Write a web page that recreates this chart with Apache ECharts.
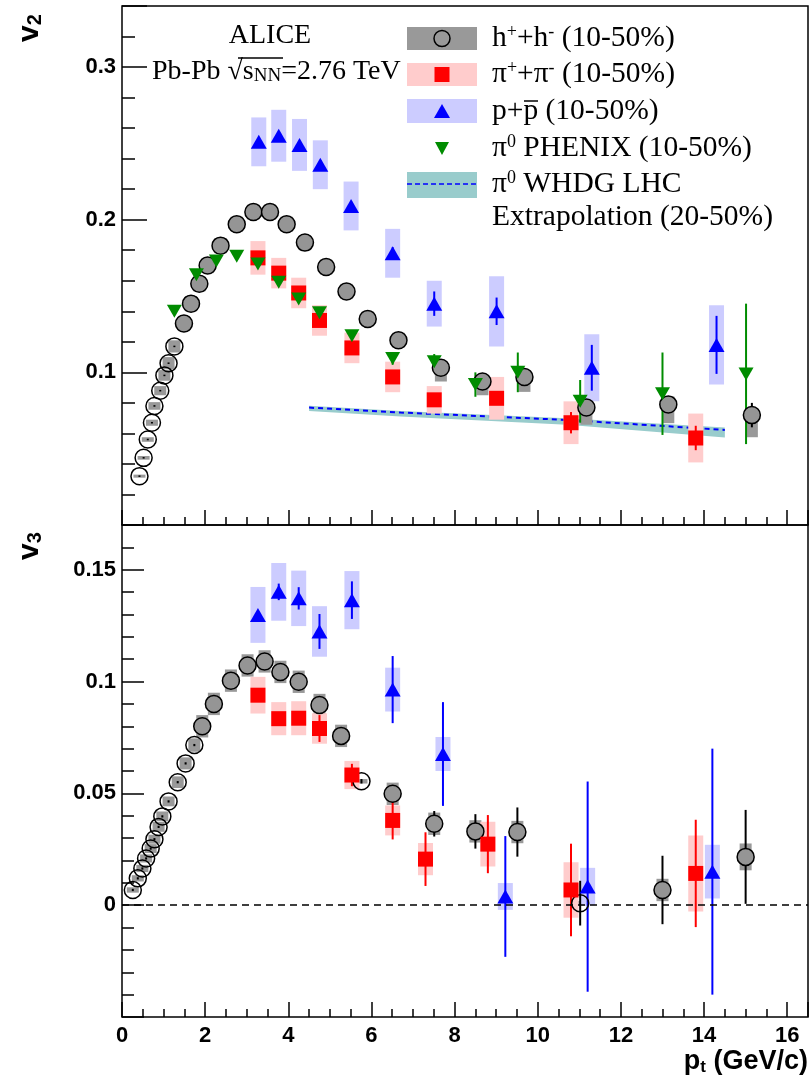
<!DOCTYPE html>
<html>
<head>
    <meta charset="utf-8" />
    <title>ALICE v2 / v3 vs pt</title>
    <script type="text/javascript" src="https://cdn.jsdelivr.net/npm/echarts@6/dist/echarts.min.js"></script>
    <style>
        html, body { margin: 0; padding: 0; background: #fff; }
        #main { width: 812px; height: 1085px; }
    </style>
</head>
<body>
    <div id="main"></div>
    <script type="text/javascript">
        // ---- values ----
        // v2, charged hadrons (10-50%)
        var hPt2   = [0.42, 0.52, 0.62, 0.72, 0.78, 0.92, 1.02, 1.12, 1.26, 1.49, 1.66, 1.86, 2.06, 2.37, 2.76, 3.16, 3.56, 3.96, 4.40, 4.91, 5.40, 5.91, 6.65, 7.67, 8.67, 9.68, 11.17, 13.14, 15.15];
        var hV2    = [0.032, 0.044, 0.056, 0.067, 0.078, 0.088, 0.098, 0.106, 0.117, 0.132, 0.145, 0.158, 0.170, 0.183, 0.197, 0.205, 0.205, 0.197, 0.185, 0.169, 0.153, 0.135, 0.121, 0.103, 0.094, 0.097, 0.077, 0.079, 0.072];
        var hStat2 = [0.0005, 0.0005, 0.0005, 0.0005, 0.0005, 0.0005, 0.0005, 0.0005, 0.0005, 0.0005, 0.0005, 0.0005, 0.0005, 0.0005, 0.0005, 0.0005, 0.0005, 0.0005, 0.0008, 0.001, 0.001, 0.001, 0.0015, 0.002, 0.002, 0.002, 0.004, 0.004, 0.008];
        // systematic boxes: centre and half height (boxes sit a little below the points at high pt)
        var hBox2  = [0.032, 0.044, 0.056, 0.067, 0.078, 0.088, 0.098, 0.106, 0.117, 0.132, 0.145, 0.158, 0.170, 0.183, 0.197, 0.205, 0.205, 0.197, 0.185, 0.169, 0.153, 0.135, 0.121, 0.100, 0.091, 0.094, 0.0734, 0.0755, 0.067];
        var hSys2  = [0.001, 0.0012, 0.0015, 0.002, 0.0025, 0.003, 0.0035, 0.004, 0.004, 0.005, 0.005, 0.005, 0.005, 0.005, 0.005, 0.005, 0.005, 0.005, 0.005, 0.005, 0.005, 0.005, 0.005, 0.006, 0.006, 0.0068, 0.0077, 0.0088, 0.0095];

        // v2, pions (10-50%)
        var piPt2   = [3.27, 3.77, 4.25, 4.75, 5.53, 6.51, 7.51, 9.01, 10.80, 13.80];
        var piV2    = [0.175, 0.165, 0.152, 0.134, 0.116, 0.097, 0.082, 0.083, 0.067, 0.057];
        var piStat2 = [0.002, 0.002, 0.002, 0.002, 0.002, 0.003, 0.003, 0.004, 0.007, 0.008];
        var piSys2  = [0.011, 0.010, 0.010, 0.010, 0.010, 0.010, 0.009, 0.014, 0.014, 0.016];

        // v2, protons (10-50%)
        var pPt2   = [3.29, 3.77, 4.27, 4.77, 5.51, 6.51, 7.51, 9.01, 11.30, 14.30];
        var pV2    = [0.251, 0.255, 0.249, 0.236, 0.209, 0.178, 0.145, 0.140, 0.103, 0.118];
        var pStat2 = [0.002, 0.002, 0.002, 0.003, 0.003, 0.004, 0.008, 0.009, 0.015, 0.019];
        var pSys2  = [0.016, 0.017, 0.017, 0.016, 0.016, 0.016, 0.015, 0.023, 0.022, 0.026];

        // v2, pi0 PHENIX (10-50%)
        var phPt  = [1.26, 1.79, 2.27, 2.76, 3.27, 3.77, 4.25, 4.75, 5.53, 6.51, 7.51, 8.50, 9.52, 11.02, 13.00, 15.01];
        var phV2  = [0.140, 0.164, 0.173, 0.176, 0.171, 0.159, 0.148, 0.139, 0.124, 0.109, 0.107, 0.092, 0.100, 0.081, 0.086, 0.099];
        var phErr = [0.002, 0.002, 0.002, 0.002, 0.002, 0.002, 0.002, 0.002, 0.003, 0.004, 0.005, 0.008, 0.013, 0.014, 0.027, 0.046];

        // pi0 WHDG LHC extrapolation (20-50%)
        var whdgPt    = [4.5, 6.7, 10.7, 14.5];
        var whdgV2    = [0.0769, 0.0737, 0.0688, 0.0623];
        var whdgLow   = [0.0747, 0.0710, 0.0656, 0.0573];
        var whdgHigh  = [0.0782, 0.0747, 0.0700, 0.0638];

        // v3, charged hadrons
        var hPt3   = [0.26, 0.38, 0.49, 0.58, 0.69, 0.78, 0.88, 0.97, 1.12, 1.34, 1.53, 1.74, 1.93, 2.21, 2.62, 3.02, 3.43, 3.81, 4.25, 4.75, 5.27, 5.76, 6.51, 7.51, 8.50, 9.51, 11.02, 13.00, 15.00];
        var hV3    = [0.0068, 0.012, 0.0164, 0.0209, 0.0253, 0.0295, 0.035, 0.0397, 0.0464, 0.055, 0.0634, 0.0716, 0.080, 0.090, 0.1004, 0.1072, 0.109, 0.1043, 0.0999, 0.0895, 0.0757, 0.0554, 0.0498, 0.0364, 0.033, 0.0327, 0.0009, 0.0068, 0.0216];
        var hStat3 = [0.0005, 0.0005, 0.0005, 0.0005, 0.0005, 0.0005, 0.0005, 0.0005, 0.0005, 0.0005, 0.0005, 0.0005, 0.0005, 0.0005, 0.0005, 0.0005, 0.0005, 0.0005, 0.0005, 0.0008, 0.001, 0.001, 0.0015, 0.0057, 0.0077, 0.011, 0.010, 0.0153, 0.021];
        var hSys3  = [0.0012, 0.0014, 0.0016, 0.0018, 0.002, 0.002, 0.0022, 0.0022, 0.0022, 0.0026, 0.0027, 0.003, 0.005, 0.005, 0.005, 0.005, 0.005, 0.005, 0.005, 0.005, 0.005, 0.001, 0.005, 0.005, 0.005, 0.005, 0.001, 0.005, 0.006];

        // v3, pions
        var piPt3   = [3.27, 3.77, 4.25, 4.75, 5.53, 6.51, 7.30, 8.80, 10.80, 13.80];
        var piV3    = [0.0939, 0.0834, 0.0836, 0.079, 0.0582, 0.0379, 0.0206, 0.0273, 0.0068, 0.0142];
        var piStat3 = [0.002, 0.002, 0.003, 0.006, 0.005, 0.0085, 0.012, 0.013, 0.0207, 0.024];
        var piSys3  = [0.0082, 0.0074, 0.0076, 0.0068, 0.0063, 0.0067, 0.0072, 0.010, 0.0124, 0.017];

        // v3, protons
        var pPt3   = [3.27, 3.77, 4.25, 4.75, 5.53, 6.51, 7.72, 9.22, 11.20, 14.20];
        var pV3    = [0.1298, 0.1401, 0.1372, 0.1224, 0.1364, 0.0964, 0.0676, 0.0039, 0.0083, 0.015];
        var pStat3 = [0.002, 0.0037, 0.005, 0.0078, 0.0084, 0.015, 0.0232, 0.027, 0.047, 0.055];
        var pSys3  = [0.0125, 0.0129, 0.0124, 0.0113, 0.013, 0.0098, 0.0076, 0.006, 0.0084, 0.012];

        // ---- helpers ----
        var SANS = '"Liberation Sans", Arial, sans-serif';
        var SERIF = '"Liberation Serif", "Times New Roman", serif';

        function zip(x, y, e) {
            return x.map(function (v, i) { return [v, y[i], e[i]]; });
        }

        // systematic box, fixed width in pixels
        function sysBox(color, halfW) {
            return function (params, api) {
                var lo = api.coord([api.value(0), api.value(1) - api.value(2)]);
                var hi = api.coord([api.value(0), api.value(1) + api.value(2)]);
                return {
                    type: 'rect',
                    shape: { x: lo[0] - halfW, y: hi[1], width: 2 * halfW, height: Math.max(lo[1] - hi[1], 1) },
                    style: { fill: color }
                };
            };
        }

        // statistical error bar
        function errBar(color) {
            return function (params, api) {
                var lo = api.coord([api.value(0), api.value(1) - api.value(2)]);
                var hi = api.coord([api.value(0), api.value(1) + api.value(2)]);
                return {
                    type: 'line',
                    shape: { x1: lo[0], y1: lo[1], x2: hi[0], y2: hi[1] },
                    style: { stroke: color, lineWidth: 2 }
                };
            };
        }

        function custom(grid, data, render, z) {
            return { type: 'custom', xAxisIndex: grid * 2, yAxisIndex: grid * 2, data: data, renderItem: render, clip: true, z: z || 2, silent: true };
        }

        function labelFmt(lo, hi) {
            return function (v) {
                var r = Math.round(v * 1000) / 1000;
                if (r < lo - 1e-9 || r > hi + 1e-9) return '';
                return String(Math.round(v * 100) / 100);
            };
        }

        var tickStyle = { color: '#000', width: 1.5 };
        var labelStyle = { color: '#000', fontFamily: SANS, fontWeight: 'bold', fontSize: 22 };

        function xAxis(grid, interval, len, withLabels) {
            return {
                type: 'value', gridIndex: grid, min: 0, max: 16.5, interval: interval, position: 'bottom',
                axisLine: { show: false, onZero: false }, splitLine: { show: false },
                axisTick: { show: true, inside: true, length: len, lineStyle: tickStyle },
                axisLabel: withLabels ? Object.assign({
                    margin: 8,
                    formatter: function (v) { return (Math.abs(v % 2) < 1e-9) ? String(v) : ''; }
                }, labelStyle) : { show: false }
            };
        }

        function yAxis(grid, min, max, interval, len, fmt) {
            return {
                type: 'value', gridIndex: grid, min: min, max: max, interval: interval, position: 'left',
                axisLine: { show: false, onZero: false }, splitLine: { show: false },
                axisTick: { show: true, inside: true, length: len, lineStyle: tickStyle },
                axisLabel: fmt ? Object.assign({ margin: 6, formatter: fmt }, labelStyle) : { show: false }
            };
        }

        function hadronFill(p) {
            // small systematic boxes leave the circle open
            return p.data[2] < 0.0045 ? 'rgba(0,0,0,0)' : '#959595';
        }

        var whdgBand = function (params, api) {
            var pts = [];
            for (var i = 0; i < whdgPt.length; i++) pts.push(api.coord([whdgPt[i], whdgHigh[i]]));
            for (var j = whdgPt.length - 1; j >= 0; j--) pts.push(api.coord([whdgPt[j], whdgLow[j]]));
            return { type: 'polygon', shape: { points: pts }, style: { fill: '#99cccc' } };
        };

        var series = [
            // ---- top panel: v2 ----
            custom(0, [[whdgPt[0], whdgV2[0]]], whdgBand, 1),
            {
                type: 'line', xAxisIndex: 0, yAxisIndex: 0, z: 1,
                data: whdgPt.map(function (p, i) { return [p, whdgV2[i]]; }),
                symbol: 'none', lineStyle: { color: '#0000ff', width: 2, type: [5, 4] }, silent: true
            },
            custom(0, zip(hPt2, hBox2, hSys2), sysBox('#999999', 6)),
            custom(0, zip(piPt2, piV2, piSys2), sysBox('#ffcccc', 7.5)),
            custom(0, zip(pPt2, pV2, pSys2), sysBox('#ccccff', 7.5)),
            custom(0, zip(hPt2, hV2, hStat2), errBar('#000')),
            custom(0, zip(piPt2, piV2, piStat2), errBar('#ff0000')),
            custom(0, zip(pPt2, pV2, pStat2), errBar('#0000ff')),
            custom(0, zip(phPt, phV2, phErr), errBar('#008c00')),
            {
                type: 'scatter', xAxisIndex: 0, yAxisIndex: 0, z: 3, data: zip(hPt2, hV2, hSys2),
                symbol: 'circle', symbolSize: 17,
                itemStyle: { color: hadronFill, borderColor: '#000', borderWidth: 1.5, opacity: 1 }
            },
            {
                type: 'scatter', xAxisIndex: 0, yAxisIndex: 0, z: 3, data: zip(piPt2, piV2, piStat2),
                symbol: 'rect', symbolSize: 15, itemStyle: { color: '#ff0000', opacity: 1 }
            },
            {
                type: 'scatter', xAxisIndex: 0, yAxisIndex: 0, z: 3, data: zip(pPt2, pV2, pStat2),
                symbol: 'triangle', symbolSize: [16, 14], itemStyle: { color: '#0000ff', opacity: 1 }
            },
            {
                type: 'scatter', xAxisIndex: 0, yAxisIndex: 0, z: 3, data: zip(phPt, phV2, phErr),
                symbol: 'triangle', symbolSize: [15, 13], symbolRotate: 180, itemStyle: { color: '#008c00', opacity: 1 }
            },

            // ---- bottom panel: v3 ----
            {
                type: 'line', xAxisIndex: 2, yAxisIndex: 2, z: 1, data: [], silent: true,
                markLine: {
                    silent: true, symbol: 'none', label: { show: false }, animation: false,
                    lineStyle: { color: '#000', width: 1.5, type: [7, 5] },
                    data: [{ yAxis: 0 }]
                }
            },
            custom(1, zip(hPt3, hV3, hSys3), sysBox('#999999', 6)),
            custom(1, zip(piPt3, piV3, piSys3), sysBox('#ffcccc', 7.5)),
            custom(1, zip(pPt3, pV3, pSys3), sysBox('#ccccff', 7.5)),
            custom(1, zip(hPt3, hV3, hStat3), errBar('#000')),
            custom(1, zip(piPt3, piV3, piStat3), errBar('#ff0000')),
            custom(1, zip(pPt3, pV3, pStat3), errBar('#0000ff')),
            {
                type: 'scatter', xAxisIndex: 2, yAxisIndex: 2, z: 3, data: zip(hPt3, hV3, hSys3),
                symbol: 'circle', symbolSize: 17,
                itemStyle: { color: hadronFill, borderColor: '#000', borderWidth: 1.5, opacity: 1 }
            },
            {
                type: 'scatter', xAxisIndex: 2, yAxisIndex: 2, z: 3, data: zip(piPt3, piV3, piStat3),
                symbol: 'rect', symbolSize: 15, itemStyle: { color: '#ff0000', opacity: 1 }
            },
            {
                type: 'scatter', xAxisIndex: 2, yAxisIndex: 2, z: 3, data: zip(pPt3, pV3, pStat3),
                symbol: 'triangle', symbolSize: [16, 14], itemStyle: { color: '#0000ff', opacity: 1 }
            }
        ];

        var legendFont = { fontFamily: SERIF, fontSize: 29.5, fill: '#000' };
        var labelFont = { fontFamily: SERIF, fontSize: 28, fill: '#000' };
        var supStyle = { fontFamily: SERIF, fontSize: 18, verticalAlign: 'top' };
        function legText(y, text) {
            return {
                type: 'text', x: 492, y: y, silent: true,
                style: Object.assign({ text: text, align: 'left', verticalAlign: 'middle', rich: { sup: supStyle } }, legendFont)
            };
        }

        var graphic = [
            // legend
            { type: 'rect', shape: { x: 407, y: 27, width: 70, height: 23 }, style: { fill: '#999999' } },
            { type: 'circle', shape: { cx: 442, cy: 38.5, r: 8 }, style: { fill: 'none', stroke: '#000', lineWidth: 1.5 } },
            { type: 'rect', shape: { x: 407, y: 63, width: 70, height: 23 }, style: { fill: '#ffcccc' } },
            { type: 'rect', shape: { x: 434.5, y: 67, width: 15, height: 15 }, style: { fill: '#ff0000' } },
            { type: 'rect', shape: { x: 407, y: 99, width: 70, height: 24 }, style: { fill: '#ccccff' } },
            { type: 'polygon', shape: { points: [[442, 104], [434, 118], [450, 118]] }, style: { fill: '#0000ff' } },
            { type: 'polygon', shape: { points: [[435, 142], [449, 142], [442, 155]] }, style: { fill: '#008c00' } },
            { type: 'rect', shape: { x: 407, y: 172, width: 70, height: 26 }, style: { fill: '#99cccc' } },
            { type: 'line', shape: { x1: 407, y1: 184, x2: 477, y2: 184 }, style: { stroke: '#0000ff', lineWidth: 1.5, lineDash: [5, 3] } },
            legText(38, 'h{sup|+}+h{sup|-} (10-50%)'),
            legText(74, 'π{sup|+}+π{sup|-} (10-50%)'),
            legText(111, 'p+p (10-50%)'),
            { type: 'line', shape: { x1: 524, y1: 101, x2: 538, y2: 101 }, style: { stroke: '#000', lineWidth: 1.5 } },
            legText(148, 'π{sup|0} PHENIX (10-50%)'),
            legText(184, 'π{sup|0} WHDG LHC'),
            legText(217, 'Extrapolation (20-50%)'),

            // experiment label
            {
                type: 'text', x: 270, y: 36, silent: true,
                style: Object.assign({ text: 'ALICE', align: 'center', verticalAlign: 'middle' }, labelFont)
            },
            {
                type: 'text', x: 152, y: 72, silent: true,
                style: Object.assign({
                    text: 'Pb-Pb √s{sub|NN}=2.76 TeV', align: 'left', verticalAlign: 'middle',
                    rich: { sub: { fontFamily: SERIF, fontSize: 19, verticalAlign: 'bottom' } }
                }, labelFont)
            },
            { type: 'line', shape: { x1: 238, y1: 58, x2: 283, y2: 58 }, style: { stroke: '#000', lineWidth: 1.3 } },

            // axis titles
            {
                type: 'text', x: 30, y: 42, rotation: Math.PI / 2, silent: true,
                style: {
                    text: 'v{s|2}', align: 'left', verticalAlign: 'middle', fill: '#000',
                    fontFamily: SANS, fontWeight: 'bold', fontSize: 30,
                    rich: { s: { fontFamily: SANS, fontWeight: 'bold', fontSize: 20, verticalAlign: 'bottom' } }
                }
            },
            {
                type: 'text', x: 30, y: 560, rotation: Math.PI / 2, silent: true,
                style: {
                    text: 'v{s|3}', align: 'left', verticalAlign: 'middle', fill: '#000',
                    fontFamily: SANS, fontWeight: 'bold', fontSize: 30,
                    rich: { s: { fontFamily: SANS, fontWeight: 'bold', fontSize: 20, verticalAlign: 'bottom' } }
                }
            },
            {
                type: 'text', x: 808, y: 1062, silent: true,
                style: {
                    text: 'p{s|t} (GeV/c)', align: 'right', verticalAlign: 'middle', fill: '#000',
                    fontFamily: SANS, fontWeight: 'bold', fontSize: 27,
                    rich: { s: { fontFamily: SANS, fontWeight: 'bold', fontSize: 17, verticalAlign: 'bottom' } }
                }
            }
        ];

        var option = {
            animation: false,
            backgroundColor: '#fff',
            grid: [
                { left: 122, top: 6, width: 686, height: 519, show: true, borderColor: '#000', borderWidth: 1.5, backgroundColor: 'transparent' },
                { left: 122, top: 525, width: 686, height: 492, show: true, borderColor: '#000', borderWidth: 1.5, backgroundColor: 'transparent' }
            ],
            xAxis: [
                xAxis(0, 2, 15, false),
                xAxis(0, 0.5, 8, false),
                xAxis(1, 2, 15, true),
                xAxis(1, 0.5, 8, false)
            ],
            yAxis: [
                yAxis(0, 0, 0.34, 0.1, 25, labelFmt(0.1, 0.3)),
                yAxis(0, 0, 0.34, 0.02, 13, null),
                yAxis(1, -0.05, 0.17, 0.05, 22, labelFmt(0, 0.15)),
                yAxis(1, -0.05, 0.17, 0.01, 12, null)
            ],
            series: series,
            graphic: graphic
        };

        var myChart = echarts.init(document.getElementById('main'));
        myChart.setOption(option);
    </script>
</body>
</html>
